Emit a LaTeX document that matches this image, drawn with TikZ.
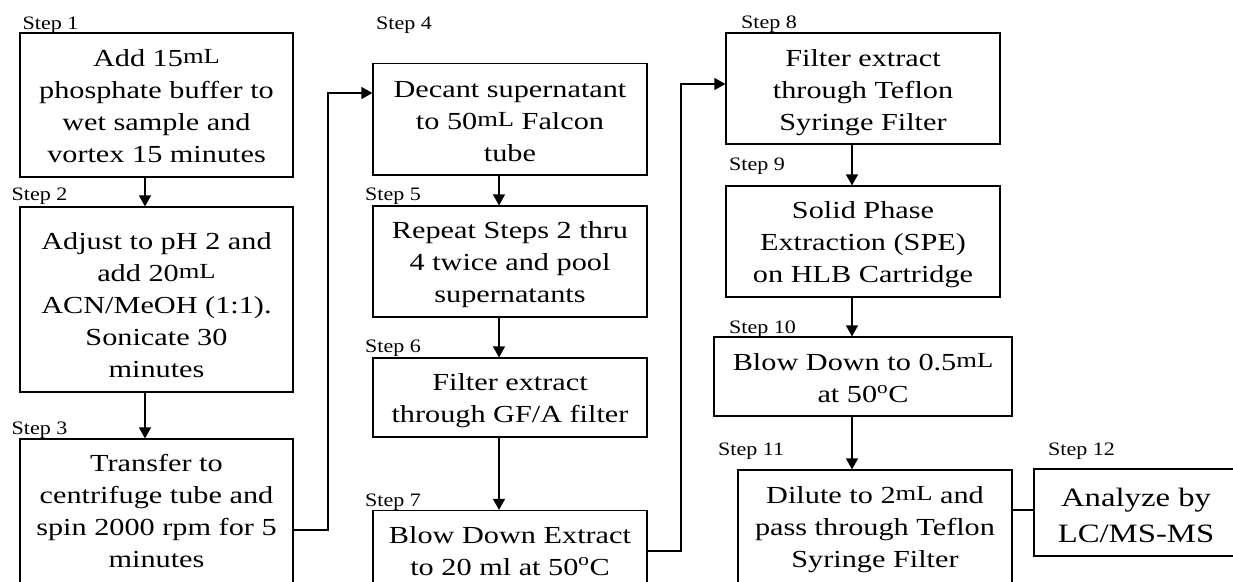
\documentclass[tikz,border=0pt]{standalone}
\usepackage{fontspec}
\usetikzlibrary{arrows.meta}
\newfontfamily\mainf[FakeStretch=1.235]{Liberation Serif}
\newfontfamily\stepf[FakeStretch=1.16]{Liberation Serif}
\newcommand\uml{\raisebox{2.5pt}{\fontsize{21.5}{21.5}\selectfont mL}}
\newcommand\degc{\textsuperscript{o}C}
\tikzset{
  box/.style={draw=black, line width=1.2pt, rectangle, inner sep=0pt},
  txt/.style={align=center, inner sep=0pt, font=\mainf\fontsize{24.5}{32}\selectfont},
  bigtxt/.style={align=center, inner sep=0pt, font=\mainf\fontsize{26.5}{36}\selectfont},
  steplbl/.style={anchor=base west, inner sep=0pt, font=\stepf\fontsize{19}{22}\selectfont},
  arr/.style={line width=1.2pt, -{Triangle[length=11pt,width=12pt]}},
  conn/.style={line width=1.2pt}
}
\begin{document}
\begin{tikzpicture}[x=1pt,y=-1pt]
\useasboundingbox (0,0) rectangle (1233,581);
\fill[white] (0,0) rectangle (1233,581);
\clip (0,0) rectangle (1233,581);

% boxes
\node[box, minimum width=273pt, minimum height=144pt] (b1) at (156.5,105) {};
\node[box, minimum width=273pt, minimum height=185pt] (b2) at (156.5,299.5) {};
\node[box, minimum width=273pt, minimum height=151pt] (b3) at (156.5,514.5) {};
\node[box, minimum width=274pt, minimum height=111.5pt] (b4) at (510,119.25) {};
\node[box, minimum width=274pt, minimum height=111pt] (b5) at (510,261.5) {};
\node[box, minimum width=274pt, minimum height=79pt] (b6) at (510,397.5) {};
\node[box, minimum width=274pt, minimum height=89.5pt] (b7) at (510,555.25) {};
\node[box, minimum width=274pt, minimum height=111pt] (b8) at (863,88.5) {};
\node[box, minimum width=274pt, minimum height=111pt] (b9) at (863,241.5) {};
\node[box, minimum width=298pt, minimum height=79pt] (b10) at (863,376.5) {};
\node[box, minimum width=274pt, minimum height=130pt] (b11) at (875,535) {};
\node[box, minimum width=204pt, minimum height=87pt] (b12) at (1136,512.5) {};

% texts
\node[txt] (t1) at (156.5,108) {\strut Add 15\uml\\phosphate buffer to\\wet sample and\\vortex 15 minutes\strut};
\node[txt] (t2) at (156.5,307) {\strut Adjust to pH 2 and\\add 20\uml\\ACN/MeOH (1:1).\\Sonicate 30\\minutes\strut};
\node[txt] (t3) at (156.5,513) {\strut Transfer to\\centrifuge tube and\\spin 2000 rpm for 5\\minutes\strut};
\node[txt] (t4) at (510,122.6) {\strut Decant supernatant\\to 50\uml{} Falcon\\tube\strut};
\node[txt] (t5) at (510,264) {\strut Repeat Steps 2 thru\\4 twice and pool\\supernatants\strut};
\node[txt] (t6) at (510,400) {\strut Filter extract\\through GF/A filter\strut};
\node[txt] (t7) at (510,552.6) {\strut Blow Down Extract\\to 20 ml at 50\degc\strut};
\node[txt] (t8) at (863,92) {\strut Filter extract\\through Teflon\\Syringe Filter\strut};
\node[txt] (t9) at (863,244) {\strut Solid Phase\\Extraction (SPE)\\on HLB Cartridge\strut};
\node[txt] (t10) at (863,380) {\strut Blow Down to 0.5\uml\\at 50\degc\strut};
\node[txt] (t11) at (875,528.6) {\strut Dilute to 2\uml{} and\\pass through Teflon\\Syringe Filter\strut};
\node[bigtxt] (t12) at (1136,516.8) {\strut Analyze by\\LC/MS-MS\strut};

% step labels
\node[steplbl] (s1) at (22.5,29) {Step 1};
\node[steplbl] (s2) at (11.5,200) {Step 2};
\node[steplbl] (s3) at (11.5,434) {Step 3};
\node[steplbl] (s4) at (376,29) {Step 4};
\node[steplbl] (s5) at (365,200) {Step 5};
\node[steplbl] (s6) at (365,352) {Step 6};
\node[steplbl] (s7) at (365,506) {Step 7};
\node[steplbl] (s8) at (741,28) {Step 8};
\node[steplbl] (s9) at (729,170) {Step 9};
\node[steplbl] (s10) at (729,333) {Step 10};
\node[steplbl] (s11) at (718,455) {Step 11};
\node[steplbl] (s12) at (1048,455) {Step 12};

% vertical arrows
\draw[arr] ([xshift=-11.5pt]b1.south) -- ([xshift=-11.5pt]b1.south |- b2.north);
\draw[arr] ([xshift=-11.5pt]b2.south) -- ([xshift=-11.5pt]b2.south |- b3.north);
\draw[arr] ([xshift=-11pt]b4.south) -- ([xshift=-11pt]b4.south |- b5.north);
\draw[arr] ([xshift=-11pt]b5.south) -- ([xshift=-11pt]b5.south |- b6.north);
\draw[arr] ([xshift=-11pt]b6.south) -- ([xshift=-11pt]b6.south |- b7.north);
\draw[arr] ([xshift=-11pt]b8.south) -- ([xshift=-11pt]b8.south |- b9.north);
\draw[arr] ([xshift=-11pt]b9.south) -- ([xshift=-11pt]b9.south |- b10.north);
\draw[arr] ([xshift=-11pt]b10.south) -- ([xshift=-11pt]b10.south |- b11.north);

% elbow connectors
\coordinate (k1) at (328,93);
\coordinate (k2) at (681,84);
\draw[arr] ([yshift=-15.5pt]b3.east) -| (k1) -- (k1 -| b4.west);
\draw[arr] ([yshift=4.25pt]b7.east) -| (k2) -- (k2 -| b8.west);
\draw[conn] ([yshift=2.5pt]b12.west) -- ([yshift=2.5pt]b12.west -| b11.east);
\end{tikzpicture}
\end{document}
